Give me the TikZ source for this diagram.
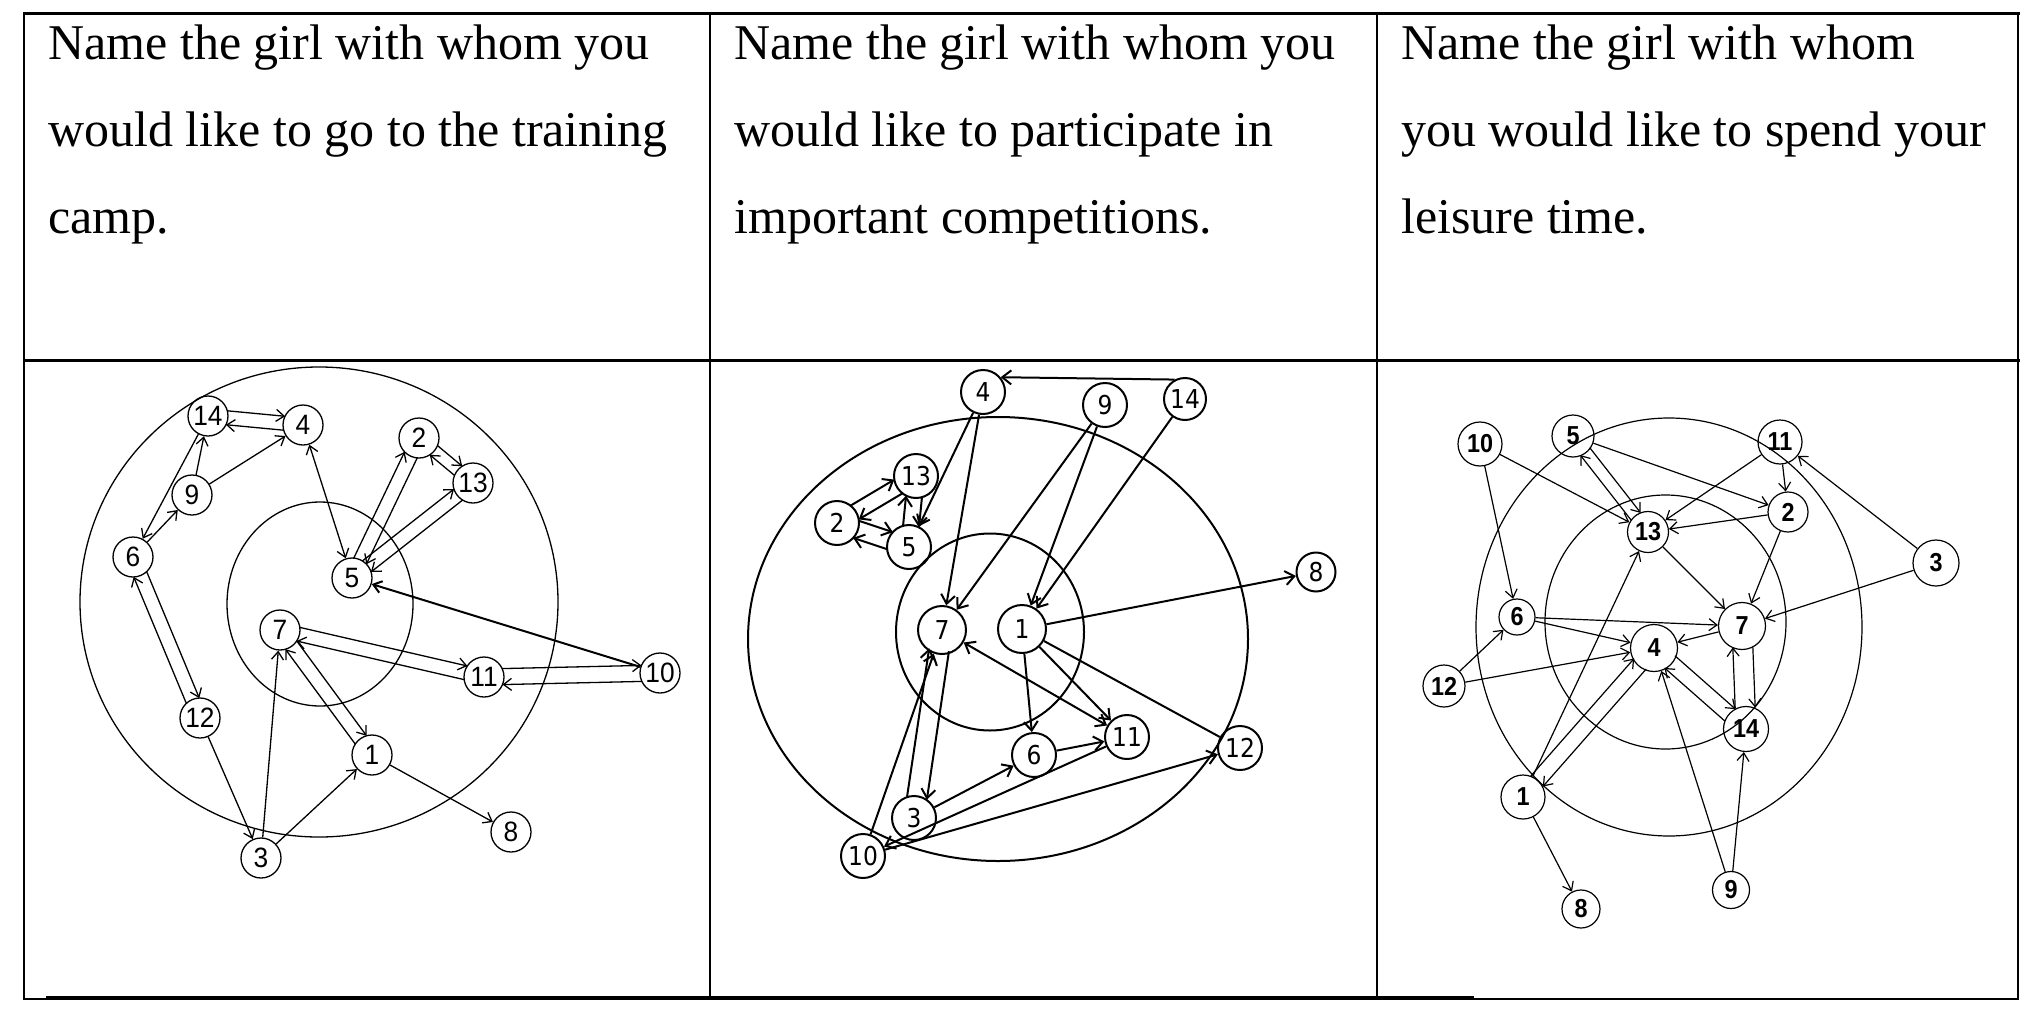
\documentclass[tikz,border=0pt]{standalone}
\usepackage{fontspec}
\setmainfont{Liberation Serif}
\newfontfamily\pone{Liberation Sans}[FakeStretch=0.94]
\newfontfamily\ptwo{DejaVu Sans}[FakeStretch=0.9]
\newfontfamily\pthree{Liberation Sans Bold}[FakeStretch=0.9]
\usetikzlibrary{arrows.meta,calc}
\newcommand\dbl[5]{%
  \draw[#1,shorten <=#5,shorten >=#5] ($(#2)!#4!90:(#3)$) -- ($(#3)!#4!-90:(#2)$);
  \draw[#1,shorten <=#5,shorten >=#5] ($(#3)!#4!90:(#2)$) -- ($(#2)!#4!-90:(#3)$);
}
\tikzset{
  hdr/.style={anchor=base west, inner sep=0pt, font=\fontsize{50}{50}\selectfont},
  tabline/.style={line width=2pt, line cap=rect},
  ring1/.style={line width=1.3pt},
  ring2/.style={line width=2pt},
  ring3/.style={line width=1.2pt},
  na/.style={circle, draw, line width=1.3pt, minimum size=40pt, inner sep=0pt, font=\pone\fontsize{28}{28}\selectfont},
  nb/.style={circle, draw, line width=2pt, minimum size=44pt, inner sep=0pt, font=\ptwo\fontsize{26}{26}\selectfont},
  nc/.style={circle, draw, line width=1.2pt, minimum size=#1, inner sep=0pt, font=\pthree\fontsize{26}{26}\selectfont},
  nc/.default=42pt,
  ea/.style={line width=1.3pt, -{Straight Barb[length=8pt,width=12pt]}},
  eab/.style={line width=1.3pt, {Straight Barb[length=8pt,width=12pt]}-{Straight Barb[length=8pt,width=12pt]}},
  eb/.style={line width=2pt, -{Straight Barb[length=9pt,width=14pt]}},
  ebb/.style={line width=2pt, {Straight Barb[length=9pt,width=14pt]}-{Straight Barb[length=9pt,width=14pt]}},
  ebn/.style={line width=2pt},
  ec/.style={line width=1.2pt, -{Straight Barb[length=8pt,width=12pt]}},
}
\begin{document}
\begin{tikzpicture}[x=1pt,y=-1pt]
\useasboundingbox (0,0) rectangle (2034,1017);
\fill[white] (0,0) rectangle (2034,1017);

% ---------- table ----------
\draw[tabline, line width=3pt] (24,13) -- (2018,13);
\draw[tabline, line width=2.6pt] (24,13) -- (24,999);
\draw[tabline] (710,13) -- (710,998);
\draw[tabline] (1377,13) -- (1377,998);
\draw[tabline] (2018,13) -- (2018,999);
\draw[tabline, line width=3pt] (24,360) -- (2018,360);
\draw[line width=4pt] (46,998) -- (1474,998);
\draw[line width=2pt] (24,999) -- (46,999);
\draw[line width=2.6pt] (1474,999) -- (2018,999);

% ---------- headers ----------
\node[hdr] (h11) at (48,59) {Name the girl with whom you};
\node[hdr] (h12) at (48,146) {would like to go to the training};
\node[hdr] (h13) at (48,233) {camp.};
\node[hdr] (h21) at (734,59) {Name the girl with whom you};
\node[hdr] (h22) at (734,146) {would like to participate in};
\node[hdr] (h23) at (734,233) {important competitions.};
\node[hdr] (h31) at (1401,59) {Name the girl with whom};
\node[hdr] (h32) at (1401,146) {you would like to spend your};
\node[hdr] (h33) at (1401,233) {leisure time.};

% ---------- panel 1 ----------
\draw[ring1] (319,602) ellipse [x radius=239, y radius=235];
\draw[ring1] (320,604) ellipse [x radius=93, y radius=102];
\node[na] (a14) at (208,416) {14};
\node[na] (a4)  at (303,425) {4};
\node[na] (a2)  at (419,438) {2};
\node[na] (a13) at (473,483) {13};
\node[na] (a9)  at (192,495) {9};
\node[na] (a6)  at (133,557) {6};
\node[na] (a5)  at (352,578) {5};
\node[na] (a7)  at (280,630) {7};
\node[na] (a11) at (484,677) {11};
\node[na] (a10) at (660,673) {10};
\node[na] (a12) at (200,718) {12};
\node[na] (a1)  at (372,755) {1};
\node[na] (a8)  at (511,832) {8};
\node[na] (a3)  at (261,858) {3};
\draw[ea] (a9) -- (a14);
\draw[ea] (a9) -- (a4);
\draw[ea] (a14) -- (a6);
\draw[ea] (a6) -- (a9);
\draw[eab] (a4) -- (a5);
\draw[ea, line width=2pt] (a10) -- (a5);
\draw[ea] (a12) -- (a3);
\draw[ea] (a3) -- (a7);
\draw[ea] (a3) -- (a1);
\draw[ea] (a1) -- (a8);
\dbl{ea}{a14}{a4}{7pt}{18.6pt}
\dbl{ea}{a5}{a2}{7pt}{18.6pt}
\dbl{ea}{a2}{a13}{6pt}{19pt}
\dbl{ea}{a5}{a13}{7pt}{18.6pt}
\dbl{ea}{a11}{a7}{7pt}{18.6pt}
\dbl{ea}{a10}{a11}{8pt}{18.3pt}
\dbl{ea}{a12}{a6}{7pt}{18.6pt}
\dbl{ea}{a1}{a7}{7pt}{18.6pt}

% ---------- panel 2 ----------
\draw[ring2] (998,639) ellipse [x radius=250, y radius=222];
\draw[ring2] (990,632) ellipse [x radius=94, y radius=98.5];
\node[nb] (b4)  at (983,392) {4};
\node[nb] (b9)  at (1105,405) {9};
\node[nb, minimum size=42pt] (b14) at (1185,399) {14};
\node[nb] (b13) at (916,476) {13};
\node[nb] (b2)  at (837,523) {2};
\node[nb] (b5)  at (909,547) {5};
\node[nb, minimum size=39pt] (b8)  at (1316,572) {8};
\node[nb, minimum size=48pt] (b7)  at (942,630) {7};
\node[nb, minimum size=48pt] (b1)  at (1022,629) {1};
\node[nb] (b11) at (1127,737) {11};
\node[nb] (b6)  at (1034,755) {6};
\node[nb] (b12) at (1240,748) {12};
\node[nb] (b3)  at (914,818) {3};
\node[nb] (b10) at (863,856) {10};
\draw[eb] (b14.118) -- (b4.40);
\draw[eb] (b4) -- (b5);
\draw[eb] (b4) -- (b7);
\draw[eb] (b9) -- (b7);
\draw[eb] (b9) -- (b1);
\draw[eb] (b14) -- (b1);
\draw[eb] (b1) -- (b8);
\draw[ebn] (b1) -- (b12);
\draw[eb] (b1) -- (b11);
\draw[eb] (b1) -- (b6);
\draw[ebb] (b7) -- (b11);
\draw[eb] (b6) -- (b11);
\draw[eb] (b3) -- (b6);
\draw[eb] (b10) -- (b7);
\draw[eb] (b11) -- (b10);
\draw[eb] (b10) -- (b12);
\dbl{eb}{b13}{b2}{8pt}{20.5pt}
\dbl{eb}{b13}{b5}{8pt}{20.5pt}
\dbl{eb}{b5}{b2}{9pt}{20pt}
\dbl{eb}{b3}{b7}{10pt}{20pt}

% ---------- panel 3 ----------
\draw[ring3] (1669,627) ellipse [x radius=193, y radius=209];
\draw[ring3] (1665.5,622) ellipse [x radius=120.5, y radius=127];
\node[nc=44pt] (c10) at (1480,444) {10};
\node[nc=42pt] (c5)  at (1573,436) {5};
\node[nc=44pt] (c11) at (1780,442) {11};
\node[nc=40pt] (c2)  at (1788,512) {2};
\node[nc=41pt] (c13) at (1648,532) {13};
\node[nc=46pt] (c3)  at (1936,563) {3};
\node[nc=36pt] (c6)  at (1517,617) {6};
\node[nc=47pt] (c7)  at (1742,626) {7};
\node[nc=47pt] (c4)  at (1654,648) {4};
\node[nc=42pt] (c12) at (1444,686) {12};
\node[nc=45pt] (c14) at (1746,729) {14};
\node[nc=44pt] (c1)  at (1523,797) {1};
\node[nc=37pt] (c9)  at (1731,890) {9};
\node[nc=38pt] (c8)  at (1581,909) {8};
\draw[ec] (c10) -- (c6);
\draw[ec] (c10) -- (c13);
\draw[ec] (c5) -- (c2);
\draw[ec] (c11) -- (c2);
\draw[ec] (c11) -- (c13);
\draw[ec] (c2) -- (c13);
\draw[ec] (c3) -- (c11);
\draw[ec] (c3) -- (c7);
\draw[ec] (c2) -- (c7);
\draw[ec] (c13) -- (c7);
\draw[ec] (c6) -- (c7);
\draw[ec] (c6) -- (c4);
\draw[ec] (c7) -- (c4);
\draw[ec] (c12) -- (c6);
\draw[ec] (c12) -- (c4);
\draw[ec] (c1) -- (c13);
\draw[ec] (c9) -- (c4);
\draw[ec] (c9) -- (c14);
\draw[ec] (c1) -- (c8);
\dbl{ec}{c5}{c13}{6pt}{19.5pt}
\dbl{ec}{c4}{c1}{8pt}{21pt}
\dbl{ec}{c4}{c14}{8pt}{21pt}
\dbl{ec}{c7}{c14}{10pt}{21pt}
\end{tikzpicture}
\end{document}
